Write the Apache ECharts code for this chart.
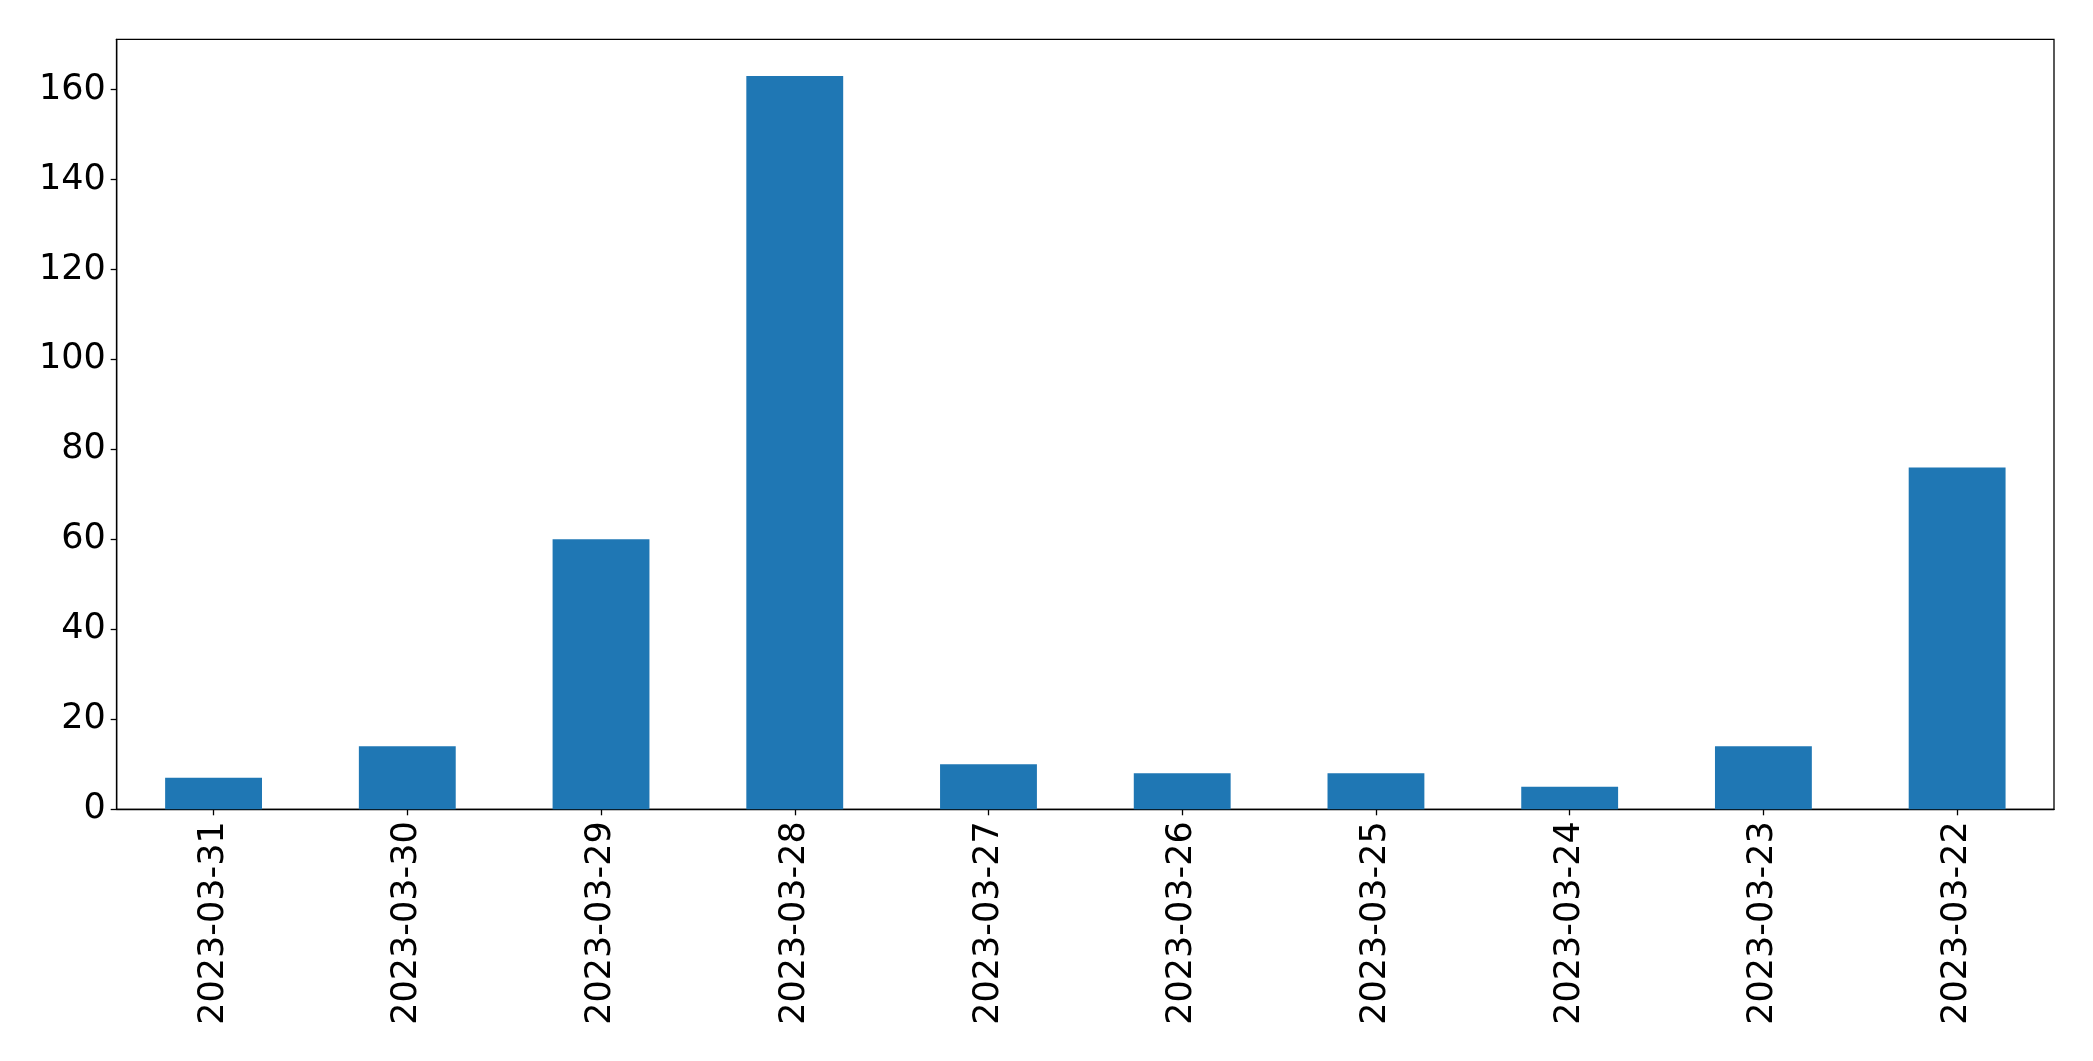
<!DOCTYPE html>
<html><head><meta charset="utf-8">
<script src="https://cdn.jsdelivr.net/npm/echarts@6/dist/echarts.min.js"></script>
<style>html,body{margin:0;padding:0;background:#fff}#c{width:2093px;height:1061px}</style>
</head><body><div id="c"></div>
<script>
const categories = ["2023-03-31","2023-03-30","2023-03-29","2023-03-28","2023-03-27","2023-03-26","2023-03-25","2023-03-24","2023-03-23","2023-03-22"];
const values = [7, 14, 60, 163, 10, 8, 8, 5, 14, 76];
const yTicks = [0, 20, 40, 60, 80, 100, 120, 140, 160];

const chart = echarts.init(document.getElementById('c'), null, {renderer: 'canvas'});
const font = 'DejaVu Sans';
chart.setOption({
  animation: false,
  grid: {left: 116.7, top: 39.3, right: 39, bottom: 251.7, show: true, borderColor: '#000', borderWidth: 1.3, backgroundColor: 'transparent'},
  xAxis: {
    type: 'category', data: categories,
    axisLine: {show: true, lineStyle: {color: '#000', width: 1.3}},
    axisTick: {show: true, alignWithLabel: true, length: 6, lineStyle: {color: '#000', width: 1.3}},
    axisLabel: {rotate: 90, margin: 12, fontSize: 35, fontFamily: font, color: '#000'},
    splitLine: {show: false}
  },
  yAxis: {
    type: 'value', min: 0, max: 171.15, interval: 20,
    axisLine: {show: true, lineStyle: {color: '#000', width: 1.3}},
    axisTick: {show: true, length: 6, customValues: yTicks, lineStyle: {color: '#000', width: 1.3}},
    axisLabel: {margin: 11, fontSize: 35, fontFamily: font, color: '#000', customValues: yTicks},
    splitLine: {show: false}
  },
  series: [{
    type: 'bar', data: values, barWidth: '50%',
    itemStyle: {color: '#1f77b4'}
  }]
});
</script></body></html>
